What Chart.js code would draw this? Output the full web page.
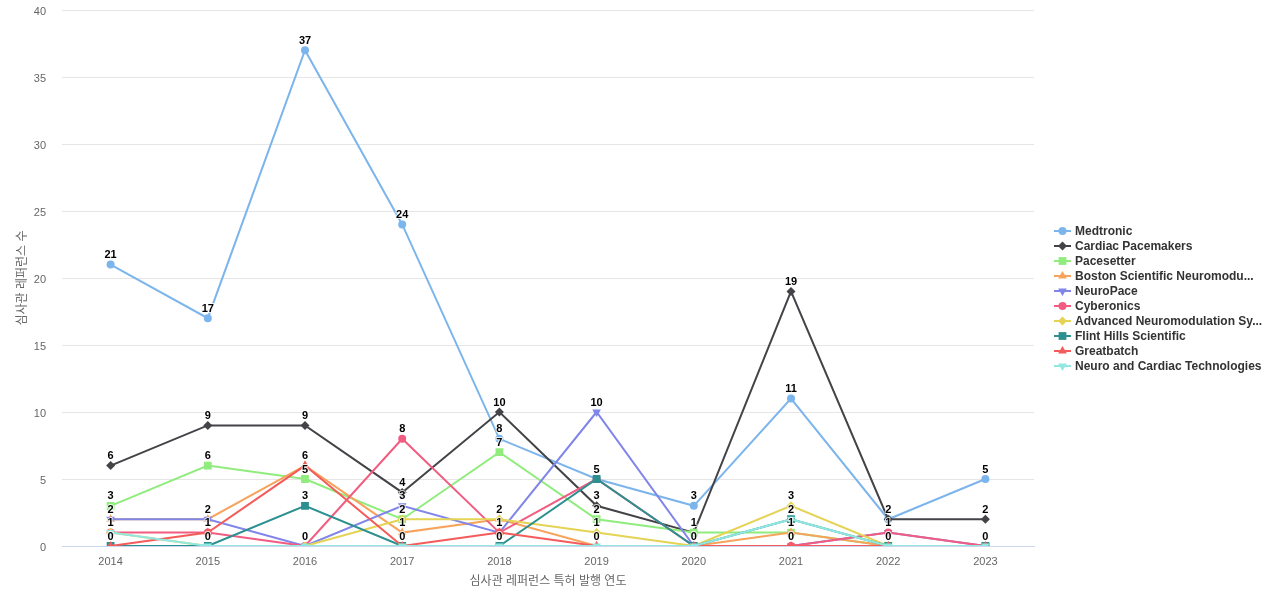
<!DOCTYPE html>
<html><head><meta charset="utf-8">
<script src="https://cdn.jsdelivr.net/npm/chart.js@4.4.0/dist/chart.umd.min.js"></script>
<style>html,body{margin:0;padding:0;background:#fff;}#wrap{width:1280px;height:600px;position:relative;}</style>
</head><body><div id="wrap"><canvas id="c" width="1280" height="600"></canvas></div>
<script>
const years = ['2014','2015','2016','2017','2018','2019','2020','2021','2022','2023'];
const seriesNames = ['Medtronic','Cardiac Pacemakers','Pacesetter','Boston Scientific Neuromodu...','NeuroPace','Cyberonics','Advanced Neuromodulation Sy...','Flint Hills Scientific','Greatbatch','Neuro and Cardiac Technologies'];
const medtronic      = [21,17,37,24,8,5,3,11,2,5];
const cardiacPace    = [6,9,9,4,10,3,1,19,2,2];
const pacesetter     = [3,6,5,2,7,2,1,1,0,0];
const bostonSci      = [2,2,6,1,2,0,0,1,0,0];
const neuroPace      = [2,2,0,3,1,10,0,0,1,0];
const cyberonics     = [1,1,0,8,1,5,0,0,1,0];
const advancedNeuro  = [1,0,0,2,2,1,0,3,0,0];
const flintHills     = [0,0,3,0,0,5,0,2,0,0];
const greatbatch     = [0,1,6,0,1,0,0,0,0,0];
const neuroCardiac   = [1,0,0,0,0,0,0,2,0,0];
const yTicks = [0,5,10,15,20,25,30,35,40];
const yTitle = '심사관 레퍼런스 수';
const xTitle = '심사관 레퍼런스 특허 발행 연도';

const seriesValues = [medtronic,cardiacPace,pacesetter,bostonSci,neuroPace,cyberonics,advancedNeuro,flintHills,greatbatch,neuroCardiac];
const colors = ['#7cb5ec','#434348','#90ed7d','#f7a35c','#8085e9','#f15c80','#e4d354','#2b908f','#f45b5b','#91e8e1'];
const markers = [
  {style:'circle',r:4,rot:0},{style:'rectRot',r:4.5,rot:0},{style:'rect',r:5.5,rot:0},
  {style:'triangle',r:5,rot:0},{style:'triangle',r:5,rot:180}
];
const FONT = '"Liberation Sans", Arial, "Noto Sans CJK KR", sans-serif';

const datasets = seriesNames.map((name,i)=>{
  const m = markers[i%5];
  return {
    label:name, data:seriesValues[i],
    borderColor:colors[i], backgroundColor:colors[i],
    pointBackgroundColor:colors[i], pointBorderColor:colors[i], pointBorderWidth:0,
    borderWidth:2, pointStyle:m.style, pointRadius:m.r, pointRotation:m.rot,
    pointHoverRadius:m.r, tension:0, order:seriesNames.length - i
  };
});

const labelPlugin = {
  id:'valueLabels',
  afterDatasetsDraw(chart){
    const ctx = chart.ctx;
    const seen = {};
    ctx.save();
    ctx.font = 'bold 11px ' + FONT;
    ctx.textAlign = 'center';
    ctx.textBaseline = 'middle';
    chart.data.datasets.forEach((ds,di)=>{
      const meta = chart.getDatasetMeta(di);
      meta.data.forEach((pt,i)=>{
        const v = ds.data[i];
        if (v === null || v === undefined) return;
        const key = i + '_' + v;
        if (seen[key]) return;
        seen[key] = true;
        const t = String(v);
        ctx.lineWidth = 2; ctx.strokeStyle = 'rgba(255,255,255,0.8)'; ctx.lineJoin='round';
        ctx.strokeText(t, pt.x, pt.y - 9.5);
        ctx.fillStyle = '#000';
        ctx.fillText(t, pt.x, pt.y - 9.5);
      });
    });
    ctx.restore();
  }
};

const legendPlugin = {
  id:'sideLegend',
  afterDraw(chart){
    const ctx = chart.ctx;
    const ca = chart.chartArea;
    const n = chart.data.datasets.length;
    const rowH = 15;
    const cy = (ca.top + ca.bottom)/2 + 20.5;
    const y0 = cy - (n-1)/2*rowH;
    const x0 = ca.right + 20;
    ctx.save();
    ctx.font = 'bold 12px ' + FONT;
    ctx.textBaseline = 'middle';
    ctx.textAlign = 'left';
    chart.data.datasets.forEach((ds,i)=>{
      const y = y0 + i*rowH;
      ctx.strokeStyle = ds.borderColor; ctx.lineWidth = 2;
      ctx.beginPath(); ctx.moveTo(x0, y); ctx.lineTo(x0+17, y); ctx.stroke();
      ctx.fillStyle = ds.borderColor;
      Chart.helpers.drawPoint(ctx, {pointStyle:ds.pointStyle, radius:ds.pointRadius, rotation:ds.pointRotation, borderWidth:0}, x0+8.5, y);
      ctx.fillStyle = '#333333';
      ctx.fillText(ds.label, x0+21, y+0.5);
    });
    ctx.restore();
  }
};

new Chart(document.getElementById('c'), {
  type:'line',
  data:{labels:years, datasets:datasets},
  plugins:[labelPlugin, legendPlugin],
  options:{
    responsive:false, devicePixelRatio:1, animation:false,
    layout:{padding:{top:10,right:246,left:0,bottom:0}},
    plugins:{legend:{display:false}, tooltip:{enabled:false}},
    scales:{
      x:{
        offset:true,
        grid:{display:false, drawTicks:false},
        border:{display:true, color:'#ccd6eb', width:1},
        ticks:{color:'#666666', font:{size:11, family:FONT}, padding:9, maxRotation:0},
        title:{display:true, text:xTitle, color:'#666666', font:{size:12, family:FONT}, padding:{top:0,bottom:11}},
        afterFit(s){ s.height = 54; s.paddingLeft = 0; s.paddingRight = 0; }
      },
      y:{
        min:0, max:40,
        afterBuildTicks(s){ s.ticks = yTicks.map(v=>({value:v})); },
        grid:{color:'#e6e6e6', lineWidth:1, drawTicks:false},
        border:{display:false},
        ticks:{color:'#666666', font:{size:11, family:FONT}, padding:16, labelOffset:1.5},
        title:{display:true, text:yTitle, color:'#666666', font:{size:12, family:FONT}, padding:{top:15,bottom:0}},
        afterFit(s){ s.width = 62; s.paddingTop = 0; s.paddingBottom = 0; }
      }
    }
  }
});
</script></body></html>
